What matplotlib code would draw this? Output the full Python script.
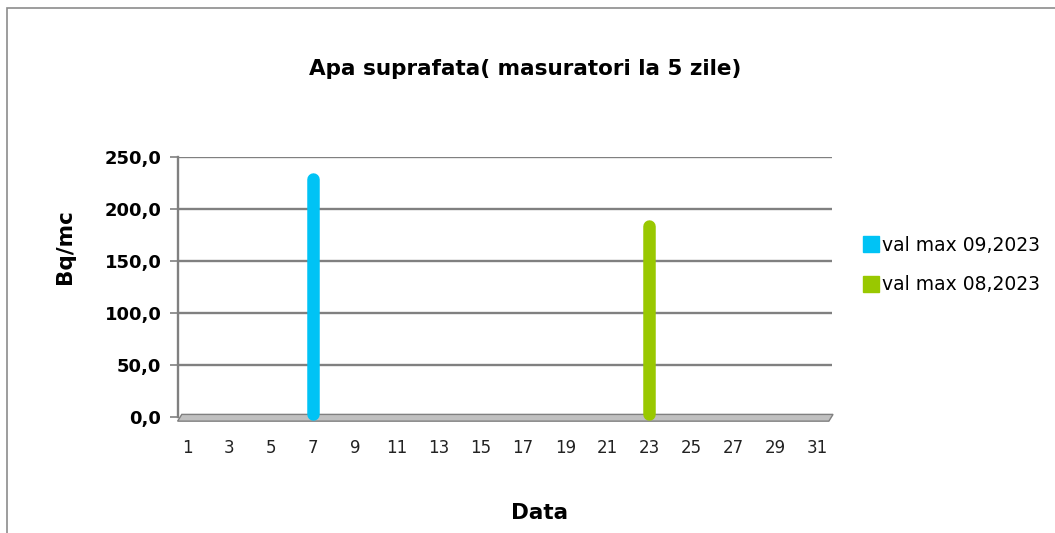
import matplotlib.pyplot as plt
from matplotlib.patches import Rectangle, Polygon

plt.rcParams['font.family'] = ['DejaVu Sans']

# date
zile = list(range(1, 32))
etichete_x = [str(z) for z in range(1, 32, 2)]
serii = ['val max 09,2023', 'val max 08,2023']
zile_serii = [[7], [23]]
valori_serii = [[232.0], [187.0]]
culori = ['#00C3F5', '#99C800']
valori_y = [0, 50, 100, 150, 200, 250]

fig = plt.figure(figsize=(10.55, 5.33), dpi=100)
fig.patches.append(Rectangle((6.5 / 1055, -0.1), 1.5, 1.1 - 8.5 / 533, transform=fig.transFigure,
                             fill=False, edgecolor='#8c8c8c', linewidth=1.2))
ax = fig.add_axes([178 / 1055, 1 - 417 / 533, (832 - 178) / 1055, (417 - 157) / 533])

# gridlines
for v in valori_y[1:]:
    ax.axhline(v, color='#808080', linewidth=1.7, zorder=1)

# floor
ax.add_patch(Polygon([(0.55, -4), (31.55, -4), (31.75, 2.5), (0.75, 2.5)],
                     closed=True, facecolor='#c0c0c0', edgecolor='#808080',
                     linewidth=1, clip_on=False, zorder=2))

# bars
for nume, zz, vv, c in zip(serii, zile_serii, valori_serii, culori):
    for z, v in zip(zz, vv):
        ax.plot([z, z], [3, v - 3], color=c, linewidth=9, solid_capstyle='round',
                zorder=3, clip_on=False)
    ax.plot([], [], marker='s', linestyle='none', markersize=11.5, color=c, label=nume)

ax.set_xlim(0.57, 31.7)
ax.set_ylim(0, 250)
ax.set_xticks(list(range(1, 32, 2)))
ax.set_xticklabels(etichete_x, fontsize=12)
ax.set_yticks(valori_y)
ax.set_yticklabels([f'{v:.1f}'.replace('.', ',') for v in valori_y], fontsize=13, fontweight='bold')
ax.tick_params(axis='x', length=0, pad=16, colors='#222222')
ax.tick_params(axis='y', length=6, width=1.2, color='#808080', pad=6)
for s in ['top', 'right', 'bottom']:
    ax.spines[s].set_visible(False)
ax.spines['left'].set_color('#808080')
ax.spines['left'].set_linewidth(1.7)

fig.text(525 / 1055, 1 - 69 / 533, 'Apa suprafata( masuratori la 5 zile)', ha='center', va='center',
         fontsize=15.5, fontweight='bold')
fig.text(65 / 1055, 1 - 247 / 533, 'Bq/mc', ha='center', va='center', rotation=90,
         fontsize=15.5, fontweight='bold')
fig.text(540 / 1055, 1 - 513 / 533, 'Data', ha='center', va='center',
         fontsize=15.5, fontweight='bold')

ax.legend(loc='center left', bbox_to_anchor=(1.02, 0.585), frameon=False, fontsize=13.5,
          handletextpad=0.05, labelspacing=1.1, handlelength=1.0)

fig.savefig('out.png', dpi=100)
